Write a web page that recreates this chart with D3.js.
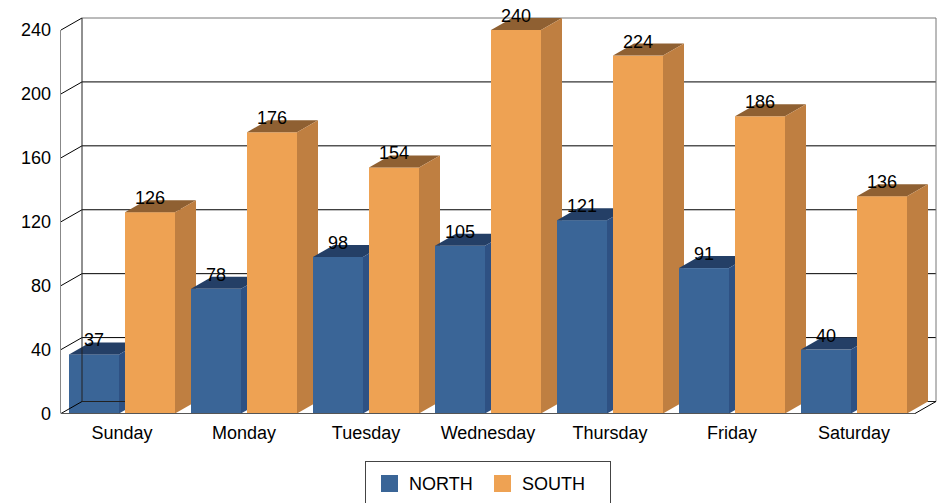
<!DOCTYPE html>
<html>
<head>
<meta charset="utf-8">
<script src="https://cdn.jsdelivr.net/npm/d3@7"></script>
<style>
  html, body { margin: 0; padding: 0; background: #fff; }
  svg { display: block; font-family: "Liberation Sans", Arial, sans-serif; }
</style>
</head>
<body>
<div id="chart"></div>
<script>
// chart data
const days = ['Sunday', 'Monday', 'Tuesday', 'Wednesday', 'Thursday', 'Friday', 'Saturday'];
const seriesNames = ['NORTH', 'SOUTH'];
const northValues = [37, 78, 98, 105, 121, 91, 40];
const southValues = [126, 176, 154, 240, 224, 186, 136];
const yTicks = [0, 40, 80, 120, 160, 200, 240];

const W = 938, H = 503;
// 3D depth offset of the back wall
const dx = 21, dy = 12;

const colors = {
  NORTH: { front: '#3a6597', top: '#243f66', side: '#2e5183' },
  SOUTH: { front: '#eea253', top: '#8f6032', side: '#bf7f41' }
};

const svg = d3.select('#chart').append('svg')
  .attr('width', W)
  .attr('height', H);

const x = d3.scaleBand()
  .domain(days)
  .range([61, 915]);

const xSeries = d3.scaleBand()
  .domain(seriesNames)
  .range([8, 114])
  .paddingInner(6 / 56);

const y = d3.scaleLinear()
  .domain([0, 240])
  .range([413.5, 30]);

const left = x.range()[0], right = x.range()[1];
const y0 = y(0), yTop = y(240);

// Back wall
svg.append('rect')
  .attr('x', left + dx)
  .attr('y', yTop - dy)
  .attr('width', right - left)
  .attr('height', y0 - yTop)
  .style('fill', '#fff');

const frame = svg.append('g');
const bars = svg.append('g');

const rows = [];
days.forEach((d, i) => {
  rows.push({ day: d, series: 'NORTH', value: northValues[i] });
  rows.push({ day: d, series: 'SOUTH', value: southValues[i] });
});

function drawBar(g, r) {
  const bx = x(r.day) + xSeries(r.series);
  const bw = xSeries.bandwidth();
  const yv = y(r.value);
  const c = colors[r.series];
  const bg = g.append('g');
  bg.append('rect')
    .attr('x', bx).attr('y', yv)
    .attr('width', bw).attr('height', y0 - yv)
    .style('fill', c.front);
  bg.append('polygon')
    .attr('points', [[bx, yv], [bx + dx, yv - dy], [bx + bw + dx, yv - dy], [bx + bw, yv]].join(' '))
    .style('fill', c.top);
  bg.append('polygon')
    .attr('points', [[bx + bw, yv], [bx + bw + dx, yv - dy], [bx + bw + dx, y0 - dy], [bx + bw, y0]].join(' '))
    .style('fill', c.side);
}

// first bar sits behind the frame lines, the rest in front
const firstBar = svg.insert('g', () => frame.node());
drawBar(firstBar, rows[0]);
rows.slice(1).forEach(r => drawBar(bars, r));

// gridlines on the back wall
frame.selectAll('.grid')
  .data(yTicks.filter(t => t > 0 && t < 240))
  .enter().append('line')
  .attr('x1', left + dx).attr('x2', right + dx)
  .attr('y1', t => y(t) - dy).attr('y2', t => y(t) - dy)
  .style('stroke', '#000').style('stroke-width', 1);

// diagonals on the left wall at each tick
frame.selectAll('.diag')
  .data(yTicks)
  .enter().append('line')
  .attr('x1', left).attr('x2', left + dx)
  .attr('y1', t => y(t)).attr('y2', t => y(t) - dy)
  .style('stroke', '#000').style('stroke-width', 1);

// back wall outline
frame.append('line')
  .attr('x1', left + dx).attr('x2', right + dx)
  .attr('y1', yTop - dy).attr('y2', yTop - dy)
  .style('stroke', '#777');
frame.append('line')
  .attr('x1', right + dx).attr('x2', right + dx)
  .attr('y1', yTop - dy).attr('y2', y0 - dy)
  .style('stroke', '#777');
frame.append('line')
  .attr('x1', left + dx).attr('x2', left + dx)
  .attr('y1', yTop - dy).attr('y2', y0 - dy)
  .style('stroke', '#222');
frame.append('line')
  .attr('x1', left + dx).attr('x2', right + dx)
  .attr('y1', y0 - dy).attr('y2', y0 - dy)
  .style('stroke', '#222');

// front left axis line
svg.append('line')
  .attr('x1', left - 0.5).attr('x2', left - 0.5)
  .attr('y1', yTop).attr('y2', y0)
  .style('stroke', '#888');

// floor front edge and right diagonal
svg.append('line')
  .attr('x1', left).attr('x2', right)
  .attr('y1', y0).attr('y2', y0)
  .style('stroke', '#555');
svg.append('line')
  .attr('x1', right).attr('x2', right + dx)
  .attr('y1', y0).attr('y2', y0 - dy)
  .style('stroke', '#000');

// value labels
svg.append('g').selectAll('text')
  .data(rows)
  .enter().append('text')
  .attr('x', r => x(r.day) + xSeries(r.series) + xSeries.bandwidth() / 2)
  .attr('y', r => y(r.value) - 8)
  .attr('text-anchor', 'middle')
  .style('font-size', '18px')
  .style('fill', '#000')
  .text(r => r.value);

// y axis labels
svg.append('g').selectAll('text')
  .data(yTicks)
  .enter().append('text')
  .attr('x', 51)
  .attr('y', t => y(t))
  .attr('dy', '0.35em')
  .attr('text-anchor', 'end')
  .style('font-size', '18px')
  .style('fill', '#000')
  .text(t => t);

// x axis labels
svg.append('g').selectAll('text')
  .data(days)
  .enter().append('text')
  .attr('x', d => x(d) + x.bandwidth() / 2)
  .attr('y', 439)
  .attr('text-anchor', 'middle')
  .style('font-size', '18px')
  .style('fill', '#000')
  .text(d => d);

// legend
const legend = svg.append('g');
legend.append('rect')
  .attr('x', 365.5).attr('y', 461.5)
  .attr('width', 245).attr('height', 60)
  .style('fill', '#fff')
  .style('stroke', '#444');
const legendX = [381, 494];
seriesNames.forEach((s, i) => {
  legend.append('rect')
    .attr('x', legendX[i]).attr('y', 475)
    .attr('width', 17).attr('height', 17)
    .style('fill', colors[s].front);
  legend.append('text')
    .attr('x', legendX[i] + 28).attr('y', 490)
    .style('font-size', '18px')
    .style('fill', '#000')
    .text(s);
});
</script>
</body>
</html>
